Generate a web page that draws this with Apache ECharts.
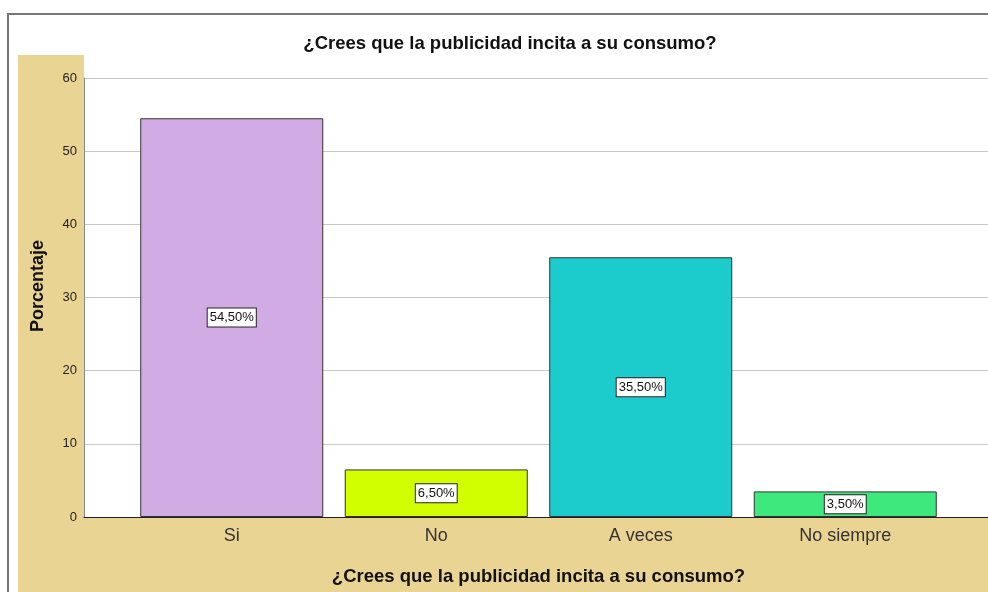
<!DOCTYPE html>
<html><head><meta charset="utf-8">
<script src="https://cdn.jsdelivr.net/npm/echarts@6/dist/echarts.min.js"></script>
<style>html,body{margin:0;padding:0;background:#fff}#c{width:988px;height:592px}</style>
</head><body><div id="c"></div>
<script>
const categories = ['Si', 'No', 'A veces', 'No siempre'];
const values = [54.5, 6.5, 35.5, 3.5];
const colors = ['#D1ABE3', '#D2FF00', '#1CCCCC', '#3DE87C'];
const yTicks = [0, 10, 20, 30, 40, 50, 60];
const titleText = '¿Crees que la publicidad incita a su consumo?';
const yName = 'Porcentaje';

const chart = echarts.init(document.getElementById('c'), null, {renderer: 'canvas'});
chart.setOption({
  backgroundColor: '#fff',
  animation: false,
  graphic: [
    {type: 'rect', shape: {x: 8, y: 14, width: 990, height: 600}, style: {fill: '#fff', stroke: '#777', lineWidth: 2}, z: -10},
    {type: 'rect', shape: {x: 18, y: 55, width: 980, height: 540}, style: {fill: '#EAD493'}, z: -9},
    {type: 'rect', shape: {x: 84, y: 55, width: 910, height: 462}, style: {fill: '#fff'}, z: -8},
    {type: 'text', x: 38, y: 286, rotation: Math.PI / 2, z: 10,
     style: {text: yName, fontFamily: 'Liberation Sans, Arial', fontSize: 18, fontWeight: 'bold', fill: '#111', align: 'center', verticalAlign: 'middle'}}
  ],
  title: {
    text: titleText, left: 505, top: 29, textAlign: 'center',
    textStyle: {fontFamily: 'Liberation Sans, Arial', fontSize: 18.5, fontWeight: 'bold', color: '#111'}
  },
  grid: [
    {left: 84, right: 0, top: 78, bottom: 75, containLabel: false},
    {left: 129.5, right: 40.5, top: 78, bottom: 75, containLabel: false}
  ],
  xAxis: [
    {gridIndex: 0, type: 'value', min: 0, max: 1, show: true,
     axisLine: {show: true, lineStyle: {color: '#222', width: 1}}, axisTick: {show: false}, axisLabel: {show: false}, splitLine: {show: false}},
    {gridIndex: 1, type: 'category', data: categories,
     axisLine: {show: false}, axisTick: {show: false},
     axisLabel: {fontFamily: 'Liberation Sans, Arial', fontSize: 18, color: '#333', margin: 10},
     name: titleText, nameLocation: 'middle', nameGap: 50,
     nameTextStyle: {fontFamily: 'Liberation Sans, Arial', fontSize: 18.5, fontWeight: 'bold', color: '#111'}}
  ],
  yAxis: [
    {gridIndex: 0, type: 'value', min: yTicks[0], max: yTicks[yTicks.length - 1], interval: 10,
     axisLine: {show: true, lineStyle: {color: '#888', width: 1}}, axisTick: {show: false},
     axisLabel: {fontFamily: 'Liberation Sans, Arial', fontSize: 13, color: '#222', margin: 7},
     splitLine: {show: true, lineStyle: {color: '#c8c8c8', width: 1}}},
    {gridIndex: 1, type: 'value', min: 0, max: 60, interval: 10, show: false}
  ],
  series: [{
    type: 'bar', xAxisIndex: 1, yAxisIndex: 1,
    data: values.map((v, i) => ({value: v, itemStyle: {color: colors[i]}})),
    barCategoryGap: '10.5%',
    itemStyle: {borderColor: '#333', borderWidth: 1},
    label: {
      show: true, position: 'inside',
      formatter: p => p.value.toFixed(2).replace('.', ',') + '%',
      fontFamily: 'Liberation Sans, Arial', fontSize: 13, color: '#111',
      backgroundColor: '#fff', borderColor: '#222', borderWidth: 1, padding: [3, 2, 2, 2]
    }
  }]
});
</script></body></html>
